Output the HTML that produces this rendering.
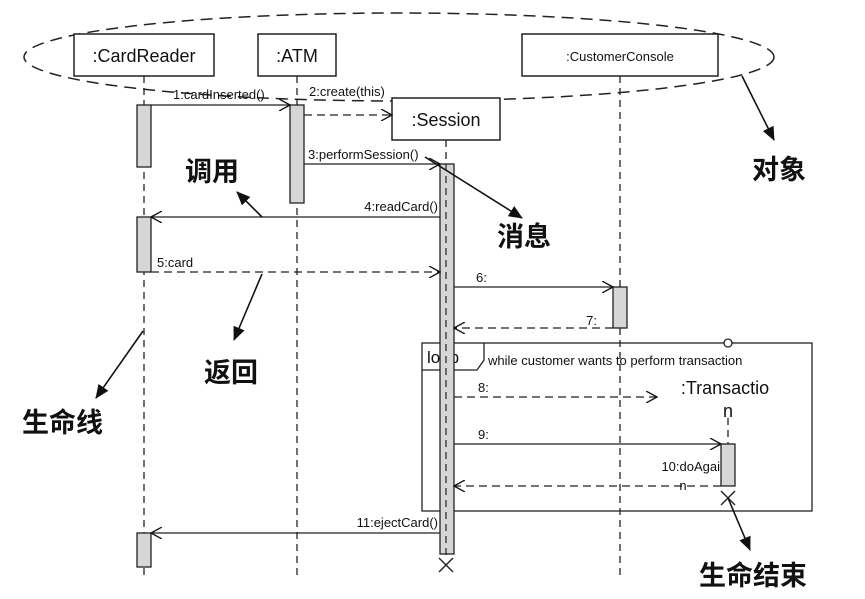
<!DOCTYPE html>
<html><head><meta charset="utf-8"><style>
html,body{margin:0;padding:0;background:#fff;}
svg{display:block;}
text{font-family:"Liberation Sans","Noto Sans CJK SC",sans-serif;fill:#111;}
.cn{font-family:"Noto Sans CJK SC","WenQuanYi Zen Hei",sans-serif;font-weight:bold;font-size:27px;}
.m{font-size:13px;}
</style></head><body>
<svg width="865" height="599" viewBox="0 0 865 599" xmlns="http://www.w3.org/2000/svg">
<defs>
<marker id="oa" markerWidth="12" markerHeight="12" refX="11" refY="6" orient="auto" markerUnits="userSpaceOnUse"><path d="M0,0 L11,6 L0,12" fill="none" stroke="#111" stroke-width="1.3"/></marker>
<marker id="fa" markerWidth="14" markerHeight="14" refX="13" refY="7" orient="auto" markerUnits="userSpaceOnUse"><path d="M0,1 L14,7 L0,13 z" fill="#111"/></marker>
</defs>
<rect width="865" height="599" fill="#fff"/>
<g stroke="#222" stroke-width="1.3" stroke-dasharray="7,5" fill="none">
<line x1="144" y1="76" x2="144" y2="578"/>
<line x1="297" y1="76" x2="297" y2="578"/>
<line x1="620" y1="76" x2="620" y2="578"/>
<line x1="446" y1="140" x2="446" y2="560"/>
<line x1="728" y1="418" x2="728" y2="444"/>
</g>
<ellipse cx="399" cy="57" rx="375" ry="44" fill="none" stroke="#222" stroke-width="1.5" stroke-dasharray="12,7"/>
<g fill="#fff" stroke="#222" stroke-width="1.5">
<rect x="74" y="34" width="140" height="42"/>
<rect x="258" y="34" width="78" height="42"/>
<rect x="522" y="34" width="196" height="42"/>
<rect x="392" y="98" width="108" height="42"/>
</g>
<text x="144" y="62" text-anchor="middle" font-size="18">:CardReader</text>
<text x="297" y="62" text-anchor="middle" font-size="18">:ATM</text>
<text x="620" y="61" text-anchor="middle" font-size="13">:CustomerConsole</text>
<text x="446" y="126" text-anchor="middle" font-size="18">:Session</text>
<rect x="422" y="343" width="390" height="168" fill="none" stroke="#222" stroke-width="1.3"/>
<path d="M422,370 L477,370 L484,360 L484,343" fill="none" stroke="#222" stroke-width="1.3"/>
<text x="427" y="363" font-size="17">loop</text>
<text x="488" y="365" font-size="13">while customer wants to perform transaction</text>
<circle cx="728" cy="343" r="4" fill="#fff" stroke="#222" stroke-width="1.3"/>
<g fill="#d6d6d6" stroke="#222" stroke-width="1.3">
<rect x="137" y="105" width="14" height="62"/>
<rect x="137" y="217" width="14" height="55"/>
<rect x="137" y="533" width="14" height="34"/>
<rect x="290" y="105" width="14" height="98"/>
<rect x="440" y="164" width="14" height="390"/>
<rect x="613" y="287" width="14" height="41"/>
<rect x="721" y="444" width="14" height="42"/>
</g>
<line x1="446" y1="164" x2="446" y2="554" stroke="#222" stroke-width="1.2" stroke-dasharray="7,5"/>
<g stroke="#222" stroke-width="1.4">
<line x1="439" y1="558" x2="453" y2="572"/><line x1="453" y1="558" x2="439" y2="572"/>
<line x1="721" y1="491" x2="735" y2="505"/><line x1="735" y1="491" x2="721" y2="505"/>
</g>
<text x="725" y="394" text-anchor="middle" font-size="18">:Transactio</text>
<text x="728" y="417" text-anchor="middle" font-size="18">n</text>
<g stroke="#222" stroke-width="1.3" fill="none">
<line x1="151" y1="105" x2="290" y2="105" marker-end="url(#oa)"/>
<line x1="304" y1="115" x2="392" y2="115" stroke-dasharray="8,5" marker-end="url(#oa)"/>
<line x1="304" y1="164" x2="440" y2="164" marker-end="url(#oa)"/>
<line x1="440" y1="217" x2="151" y2="217" marker-end="url(#oa)"/>
<line x1="151" y1="272" x2="440" y2="272" stroke-dasharray="8,5" marker-end="url(#oa)"/>
<line x1="454" y1="287" x2="613" y2="287" marker-end="url(#oa)"/>
<line x1="613" y1="328" x2="454" y2="328" stroke-dasharray="8,5" marker-end="url(#oa)"/>
<line x1="454" y1="397" x2="657" y2="397" stroke-dasharray="8,5" marker-end="url(#oa)"/>
<line x1="454" y1="444" x2="721" y2="444" marker-end="url(#oa)"/>
<line x1="721" y1="486" x2="454" y2="486" stroke-dasharray="8,5" marker-end="url(#oa)"/>
<line x1="440" y1="533" x2="151" y2="533" marker-end="url(#oa)"/>
</g>
<text class="m" x="173" y="99">1:cardInserted()</text>
<text class="m" x="309" y="96">2:create(this)</text>
<text class="m" x="308" y="159">3:performSession()</text>
<text class="m" x="438" y="211" text-anchor="end">4:readCard()</text>
<text class="m" x="157" y="267">5:card</text>
<text class="m" x="476" y="282">6:</text>
<text class="m" x="597" y="325" text-anchor="end">7:</text>
<text class="m" x="478" y="392">8:</text>
<text class="m" x="478" y="439">9:</text>
<text class="m" x="720" y="471" text-anchor="end">10:doAgai</text>
<text class="m" x="683" y="490" text-anchor="middle">n</text>
<text class="m" x="438" y="527" text-anchor="end">11:ejectCard()</text>
<g stroke="#111" stroke-width="1.6">
<line x1="262" y1="217" x2="237" y2="192" marker-end="url(#fa)"/>
<line x1="425" y1="157" x2="522" y2="218" marker-end="url(#fa)"/>
<line x1="742" y1="76" x2="774" y2="140" marker-end="url(#fa)"/>
<line x1="262" y1="274" x2="234" y2="340" marker-end="url(#fa)"/>
<line x1="143" y1="331" x2="96" y2="398" marker-end="url(#fa)"/>
<line x1="728" y1="498" x2="750" y2="550" marker-end="url(#fa)"/>
</g>
<text class="cn" x="185" y="181">调用</text>
<text class="cn" x="497" y="246">消息</text>
<text class="cn" x="752" y="179">对象</text>
<text class="cn" x="204" y="382">返回</text>
<text class="cn" x="22" y="432">生命线</text>
<text class="cn" x="699" y="585" font-size="29">生命结束</text>
</svg>
</body></html>
